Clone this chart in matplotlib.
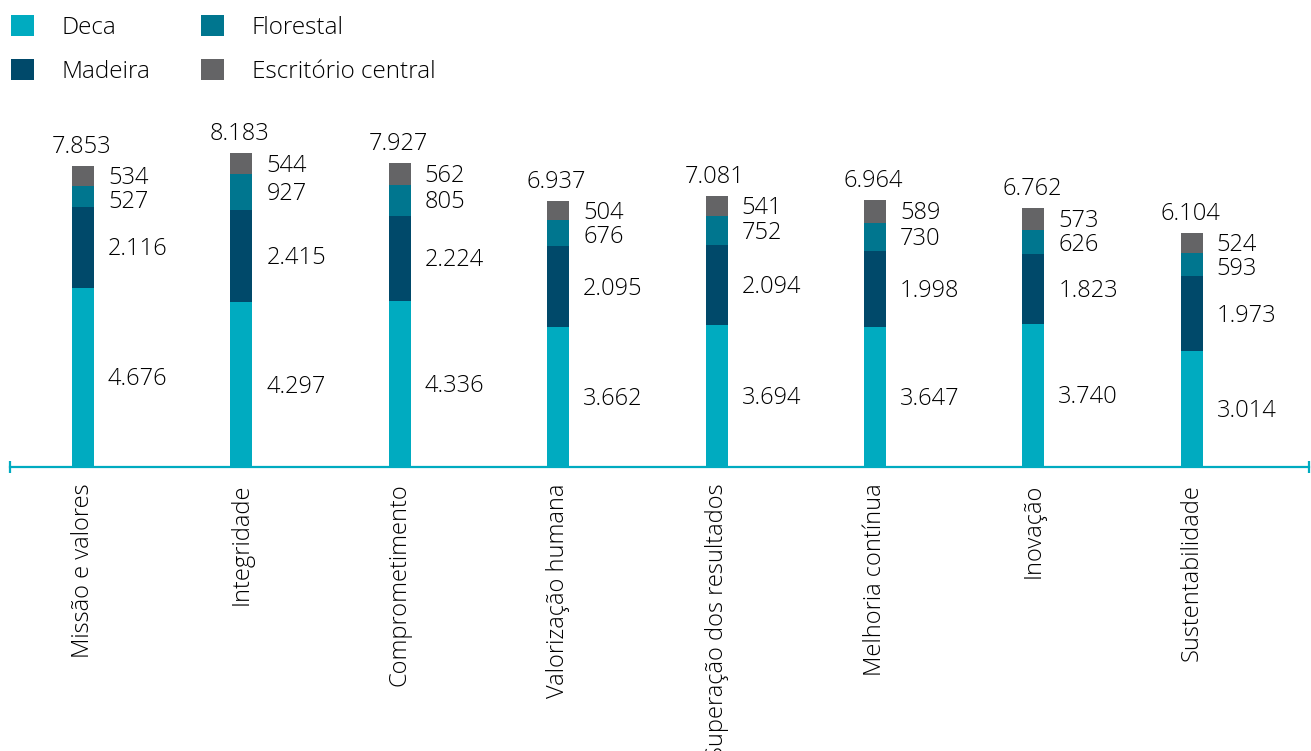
import numpy as np
import matplotlib
matplotlib.use("Agg")
import matplotlib.pyplot as plt
from matplotlib.patches import Patch

plt.rcParams['font.family'] = ['Open Sans', 'DejaVu Sans']
plt.rcParams['font.weight'] = 'light'

categorias = ["Missão e valores", "Integridade", "Comprometimento", "Valorização humana",
              "Superação dos resultados", "Melhoria contínua", "Inovação", "Sustentabilidade"]
deca = [4676, 4297, 4336, 3662, 3694, 3647, 3740, 3014]
madeira = [2116, 2415, 2224, 2095, 2094, 1998, 1823, 1973]
florestal = [527, 927, 805, 676, 752, 730, 626, 593]
escritorio = [534, 544, 562, 504, 541, 589, 573, 524]
totais = [7853, 8183, 7927, 6937, 7081, 6964, 6762, 6104]

series = ["Deca", "Madeira", "Florestal", "Escritório central"]
cores = ["#00abc0", "#00496a", "#00768f", "#646466"]
texto = "#000000"
fs = 17

def fmt(v):
    return f"{v:,}".replace(",", ".")

fig = plt.figure(figsize=(13.11, 7.51), dpi=100)
ax = fig.add_axes([10/1311, 284/751, 1299/1311, 367/751])

x = np.arange(len(categorias))
largura = 0.139
valores = [deca, madeira, florestal, escritorio]
base = np.zeros(len(categorias))
for vals, cor in zip(valores, cores):
    ax.bar(x, vals, largura, bottom=base, color=cor, linewidth=0)
    base = base + np.array(vals)

# value labels beside each segment, spread so the small ones don't collide
gap = 626
for i in range(len(categorias)):
    segs = [v[i] for v in valores]
    inicio = np.concatenate([[0], np.cumsum(segs)[:-1]])
    meios = inicio + np.array(segs) / 2
    pos = list(meios)
    for k in range(len(segs) - 2, -1, -1):
        pos[k] = min(meios[k], pos[k + 1] - gap)
    for k in range(len(segs)):
        ax.annotate(fmt(segs[k]), xy=(x[i], pos[k]), xytext=(18, -1.5),
                    textcoords='offset points', ha='left', va='center',
                    fontsize=fs, color=texto)
    ax.annotate(fmt(totais[i]), xy=(x[i], totais[i]), xytext=(-1, 5),
                textcoords='offset points', ha='center', va='bottom',
                fontsize=fs, color=texto)

ax.set_xlim(-0.46, 7.74)
ax.set_ylim(0, 9575)
for s in ['top', 'left', 'right']:
    ax.spines[s].set_visible(False)
ax.spines['bottom'].set_color(cores[0])
ax.spines['bottom'].set_linewidth(1.6)
ax.plot([0, 1], [0, 0], transform=ax.transAxes, marker='|', markersize=9,
        markeredgewidth=1.6, linestyle='none', color=cores[0], clip_on=False)
ax.set_yticks([])
ax.set_xticks(x)
ax.set_xticklabels(categorias, rotation=90, fontsize=fs, color=texto)
ax.tick_params(axis='x', length=0, pad=12)

handles = [Patch(facecolor=c, edgecolor='none') for c in cores]
fig.legend(handles, series, loc='upper left', bbox_to_anchor=(0.0, 0.995), ncol=2,
           frameon=False, fontsize=17.5, handlelength=0.95, handleheight=0.95,
           handletextpad=1.15, columnspacing=2.05, labelspacing=0.8,
           borderaxespad=0.05, labelcolor=texto)

fig.savefig("out.png", dpi=100)
